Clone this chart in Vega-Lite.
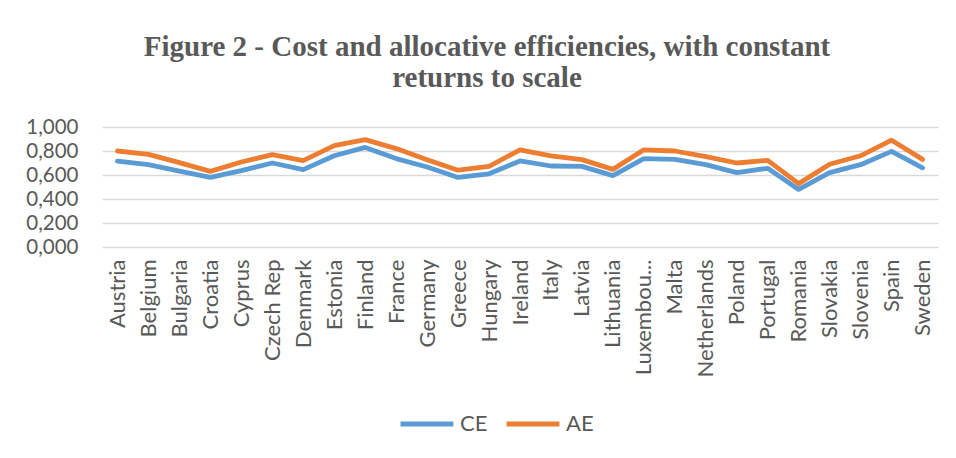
{
  "$schema": "https://vega.github.io/schema/vega-lite/v6.json",
  "width": 836,
  "height": 120,
  "autosize": {"type": "none"},
  "padding": {"left": 102, "top": 127, "right": 18, "bottom": 211},
  "background": "white",
  "title": {
    "text": ["Figure 2 - Cost and allocative efficiencies, with constant", "returns to scale"],
    "font": "Liberation Serif",
    "fontSize": 29,
    "fontWeight": "bold",
    "color": "#595959",
    "lineHeight": 31,
    "anchor": "middle",
    "dx": -33,
    "offset": 24
  },
  "data": {
    "values": [
      {"country": "Austria", "series": "CE", "value": 0.715}, {"country": "Austria", "series": "AE", "value": 0.8},
      {"country": "Belgium", "series": "CE", "value": 0.686}, {"country": "Belgium", "series": "AE", "value": 0.772},
      {"country": "Bulgaria", "series": "CE", "value": 0.633}, {"country": "Bulgaria", "series": "AE", "value": 0.703},
      {"country": "Croatia", "series": "CE", "value": 0.58}, {"country": "Croatia", "series": "AE", "value": 0.63},
      {"country": "Cyprus", "series": "CE", "value": 0.636}, {"country": "Cyprus", "series": "AE", "value": 0.708},
      {"country": "Czech Rep", "series": "CE", "value": 0.7}, {"country": "Czech Rep", "series": "AE", "value": 0.77},
      {"country": "Denmark", "series": "CE", "value": 0.645}, {"country": "Denmark", "series": "AE", "value": 0.72},
      {"country": "Estonia", "series": "CE", "value": 0.76}, {"country": "Estonia", "series": "AE", "value": 0.845},
      {"country": "Finland", "series": "CE", "value": 0.83}, {"country": "Finland", "series": "AE", "value": 0.895},
      {"country": "France", "series": "CE", "value": 0.737}, {"country": "France", "series": "AE", "value": 0.82},
      {"country": "Germany", "series": "CE", "value": 0.667}, {"country": "Germany", "series": "AE", "value": 0.728},
      {"country": "Greece", "series": "CE", "value": 0.58}, {"country": "Greece", "series": "AE", "value": 0.64},
      {"country": "Hungary", "series": "CE", "value": 0.61}, {"country": "Hungary", "series": "AE", "value": 0.672},
      {"country": "Ireland", "series": "CE", "value": 0.717}, {"country": "Ireland", "series": "AE", "value": 0.81},
      {"country": "Italy", "series": "CE", "value": 0.675}, {"country": "Italy", "series": "AE", "value": 0.76},
      {"country": "Latvia", "series": "CE", "value": 0.672}, {"country": "Latvia", "series": "AE", "value": 0.728},
      {"country": "Lithuania", "series": "CE", "value": 0.595}, {"country": "Lithuania", "series": "AE", "value": 0.647},
      {"country": "Luxembourg", "series": "CE", "value": 0.737}, {"country": "Luxembourg", "series": "AE", "value": 0.81},
      {"country": "Malta", "series": "CE", "value": 0.73}, {"country": "Malta", "series": "AE", "value": 0.8},
      {"country": "Netherlands", "series": "CE", "value": 0.686}, {"country": "Netherlands", "series": "AE", "value": 0.753},
      {"country": "Poland", "series": "CE", "value": 0.62}, {"country": "Poland", "series": "AE", "value": 0.7},
      {"country": "Portugal", "series": "CE", "value": 0.656}, {"country": "Portugal", "series": "AE", "value": 0.722},
      {"country": "Romania", "series": "CE", "value": 0.48}, {"country": "Romania", "series": "AE", "value": 0.528},
      {"country": "Slovakia", "series": "CE", "value": 0.62}, {"country": "Slovakia", "series": "AE", "value": 0.69},
      {"country": "Slovenia", "series": "CE", "value": 0.686}, {"country": "Slovenia", "series": "AE", "value": 0.76},
      {"country": "Spain", "series": "CE", "value": 0.797}, {"country": "Spain", "series": "AE", "value": 0.89},
      {"country": "Sweden", "series": "CE", "value": 0.66}, {"country": "Sweden", "series": "AE", "value": 0.73}
    ]
  },
  "mark": {"type": "line", "strokeWidth": 4.8, "strokeCap": "round", "strokeJoin": "round"},
  "encoding": {
    "x": {
      "field": "country",
      "type": "nominal",
      "sort": null,
      "title": null,
      "scale": {"type": "point", "padding": 0.5},
      "axis": {
        "labelAngle": -90,
        "labelAlign": "right",
        "labelBaseline": "middle",
        "labelFont": "Lato",
        "labelFontSize": 22,
        "labelColor": "#595959",
        "labelPadding": 12,
        "labelLimit": 0,
        "labelExpr": "datum.value == 'Luxembourg' ? 'Luxembou...' : datum.value",
        "ticks": false,
        "domain": false,
        "grid": false
      }
    },
    "y": {
      "field": "value",
      "type": "quantitative",
      "title": null,
      "scale": {"domain": [0, 1], "nice": false},
      "axis": {
        "values": [0, 0.2, 0.4, 0.6, 0.8, 1.0],
        "labelExpr": "replace(format(datum.value, '.3f'), '.', ',')",
        "labelFont": "Lato",
        "labelFontSize": 20.5,
        "labelColor": "#595959",
        "labelPadding": 24,
        "ticks": false,
        "domain": false,
        "grid": true,
        "gridColor": "#D9D9D9",
        "gridWidth": 1.3
      }
    },
    "color": {
      "field": "series",
      "type": "nominal",
      "scale": {"domain": ["CE", "AE"], "range": ["#5B9BD5", "#ED7D31"]},
      "legend": {
        "title": null,
        "orient": "none",
        "direction": "horizontal",
        "legendX": 296,
        "legendY": 268,
        "symbolType": "stroke",
        "symbolSize": 2800,
        "symbolStrokeWidth": 4.8,
        "labelFont": "Lato",
        "labelFontSize": 22,
        "labelColor": "#595959",
        "labelOffset": 4,
        "columnPadding": 8
      }
    }
  },
  "config": {
    "view": {"stroke": null}
  }
}
